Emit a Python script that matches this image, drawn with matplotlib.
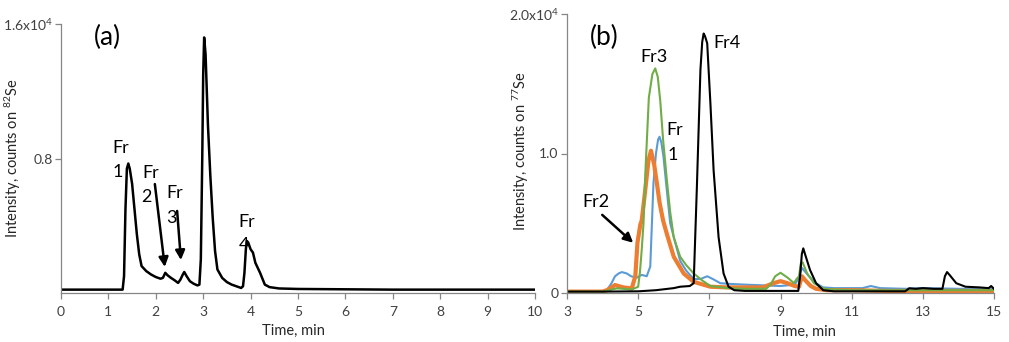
import numpy as np
import matplotlib
matplotlib.use("Agg")
import matplotlib.pyplot as plt

plt.rcParams["font.family"] = ["Lato", "DejaVu Sans"]
plt.rcParams["mathtext.default"] = "regular"

# ── panel (a): 82Se trace, intensity in units of 1e4 counts ─────────────────
T_A = [0, 0.5, 1.0, 1.30, 1.33, 1.36, 1.39, 1.42, 1.45, 1.50, 1.55, 1.60, 1.65, 1.70,
       1.80, 1.90, 2.00, 2.10, 2.15, 2.20, 2.25, 2.32, 2.40, 2.47, 2.52, 2.57, 2.60,
       2.65, 2.72, 2.80, 2.88, 2.92, 2.95, 2.98, 3.00, 3.02, 3.05, 3.10, 3.15, 3.20,
       3.25, 3.30, 3.40, 3.50, 3.60, 3.70, 3.80, 3.84, 3.87, 3.90, 3.92, 3.95, 4.00,
       4.05, 4.10, 4.20, 4.30, 4.40, 4.60, 5.0, 6, 7, 8, 9, 10]
Y_A = [0.02, 0.02, 0.02, 0.02, 0.10, 0.50, 0.74, 0.77, 0.74, 0.65, 0.50, 0.35, 0.23, 0.16,
       0.13, 0.11, 0.095, 0.085, 0.09, 0.12, 0.105, 0.09, 0.075, 0.06, 0.08, 0.11, 0.125,
       0.10, 0.07, 0.055, 0.045, 0.05, 0.20, 0.80, 1.30, 1.52, 1.42, 1.00, 0.70, 0.45,
       0.25, 0.14, 0.09, 0.065, 0.05, 0.04, 0.03, 0.04, 0.12, 0.26, 0.31, 0.30, 0.26,
       0.24, 0.18, 0.12, 0.05, 0.035, 0.027, 0.024, 0.022, 0.02, 0.02, 0.02, 0.02]

# ── panel (b): 77Se traces ───────────────────────────────────────────────────
T_BLUE = [3, 4.0, 4.12, 4.25, 4.35, 4.45, 4.54, 4.68, 4.80, 4.96, 5.10, 5.24, 5.34, 5.43,
          5.50, 5.56, 5.60, 5.65, 5.71, 5.80, 5.90, 6.00, 6.18, 6.35, 6.56, 6.75, 6.94,
          7.10, 7.31, 7.60, 8.0, 8.5, 9.0, 9.4, 9.5, 9.6, 9.8, 10.0, 10.2, 10.5, 11.3,
          11.54, 11.8, 12.5, 13.0, 14.0, 15.0]
Y_BLUE = [0.01, 0.01, 0.02, 0.07, 0.12, 0.14, 0.15, 0.14, 0.12, 0.11, 0.13, 0.12, 0.19, 0.79,
          1.00, 1.10, 1.12, 1.08, 0.98, 0.75, 0.50, 0.40, 0.23, 0.16, 0.10, 0.10, 0.12,
          0.10, 0.07, 0.065, 0.06, 0.055, 0.05, 0.06, 0.10, 0.18, 0.12, 0.07, 0.04, 0.035, 0.035,
          0.05, 0.035, 0.03, 0.035, 0.03, 0.03]

T_ORANGE = [3, 4.0, 4.12, 4.25, 4.35, 4.59, 4.82, 4.92, 4.98, 5.06, 5.10, 5.20, 5.29, 5.36,
            5.45, 5.53, 5.60, 5.70, 5.81, 6.00, 6.28, 6.56, 7.03, 7.5, 8.0, 8.5, 8.8, 9.0,
            9.2, 9.4, 9.52, 9.6, 9.7, 9.85, 10.0, 10.3, 11, 12, 13, 14, 15]
Y_ORANGE = [0.01, 0.01, 0.02, 0.04, 0.057, 0.04, 0.033, 0.12, 0.36, 0.49, 0.52, 0.74, 0.95, 1.02,
            0.92, 0.78, 0.65, 0.52, 0.42, 0.26, 0.14, 0.08, 0.045, 0.04, 0.04, 0.04, 0.07, 0.085,
            0.07, 0.05, 0.045, 0.12, 0.09, 0.05, 0.03, 0.02, 0.02, 0.015, 0.015, 0.015, 0.015]

T_GREEN = [3, 4.0, 4.12, 4.25, 4.40, 4.60, 4.82, 5.00, 5.05, 5.10, 5.15, 5.20, 5.30, 5.40,
           5.48, 5.55, 5.62, 5.70, 5.81, 5.90, 6.00, 6.18, 6.35, 6.56, 6.80, 7.03, 7.5, 8.0,
           8.6, 8.72, 8.85, 9.0, 9.2, 9.38, 9.45, 9.52, 9.57, 9.62, 9.75, 9.94, 10.22, 10.5,
           11, 12, 13, 14, 15]
Y_GREEN = [0.01, 0.01, 0.015, 0.025, 0.033, 0.03, 0.025, 0.045, 0.15, 0.31, 0.50, 0.85, 1.40, 1.57,
           1.61, 1.55, 1.38, 1.10, 0.80, 0.58, 0.40, 0.26, 0.20, 0.14, 0.09, 0.05, 0.035, 0.03,
           0.03, 0.06, 0.12, 0.145, 0.11, 0.07, 0.10, 0.12, 0.21, 0.22, 0.14, 0.07, 0.03, 0.025,
           0.02, 0.02, 0.02, 0.02, 0.02]

T_BLACK = [3, 4, 5, 5.5, 6.0, 6.18, 6.45, 6.56, 6.65, 6.75, 6.80, 6.84, 6.88, 6.94, 7.03,
           7.12, 7.26, 7.40, 7.54, 7.70, 8.0, 8.5, 9.0, 9.5, 9.55, 9.60, 9.64, 9.70, 9.83,
           10.0, 10.2, 10.5, 11, 12, 12.5, 12.62, 12.8, 13.0, 13.3, 13.55, 13.62, 13.68, 13.75,
           13.94, 14.2, 14.6, 14.85, 14.92, 15.0]
Y_BLACK = [0.01, 0.01, 0.012, 0.02, 0.035, 0.045, 0.05, 0.07, 0.76, 1.60, 1.80, 1.86, 1.84, 1.79, 1.36,
           0.88, 0.40, 0.14, 0.045, 0.02, 0.015, 0.015, 0.015, 0.015, 0.12, 0.28, 0.32, 0.27, 0.165,
           0.07, 0.02, 0.012, 0.012, 0.012, 0.012, 0.034, 0.03, 0.035, 0.03, 0.03, 0.12, 0.15, 0.13,
           0.07, 0.045, 0.04, 0.035, 0.05, 0.03]

BLUE, ORANGE, GREEN = "#5B9BD5", "#ED7D31", "#70AD47"
SPINE = "#868686"
W, H = 1009, 342


def style(ax):
    for s in ["top", "right"]:
        ax.spines[s].set_visible(False)
    for s in ["left", "bottom"]:
        ax.spines[s].set_color(SPINE)
        ax.spines[s].set_linewidth(0.9)
    ax.tick_params(direction="out", length=4, width=0.9, color=SPINE,
                   labelsize=10, labelcolor="#404040")
    ax.tick_params(axis="x", pad=5)
    ax.tick_params(axis="y", pad=2)


def box(l, r, b, t):
    return [l / W, (H - b) / H, (r - l) / W, (b - t) / H]


fig = plt.figure(figsize=(W / 100, H / 100), dpi=100)
lab = dict(fontsize=13, ha="center", va="center")
arr = dict(arrowstyle="-|>", color="k", lw=1.8, mutation_scale=14, shrinkA=0, shrinkB=0)

# ── (a) ──
ax1 = fig.add_axes(box(61, 535, 293, 24))
ax1.plot(T_A, Y_A, color="k", lw=1.8)
ax1.set_xlim(0, 10); ax1.set_ylim(0, 1.6)
ax1.set_xticks(range(0, 11))
ax1.set_yticks([0.8, 1.6])
ax1.set_yticklabels(["0.8", "1.6x10$^{4}$"])
style(ax1)
ax1.set_xlabel("Time, min", fontsize=10.5, color="#262626")
ax1.xaxis.set_label_coords(0.49, -0.115)
ax1.set_ylabel("Intensity, counts on $^{82}$Se", fontsize=10.5, color="#262626")
ax1.yaxis.set_label_coords(-0.08, 0.5)
ax1.text(0.97, 1.52, "(a)", fontsize=19, ha="center", va="center")
ax1.text(1.27, 0.86, "Fr", **lab); ax1.text(1.20, 0.72, "1", **lab)
ax1.text(1.90, 0.714, "Fr", **lab); ax1.text(1.81, 0.571, "2", **lab)
ax1.text(2.40, 0.595, "Fr", **lab); ax1.text(2.34, 0.446, "3", **lab)
ax1.text(3.92, 0.42, "Fr", **lab); ax1.text(3.86, 0.285, "4", **lab)
ax1.annotate("", xy=(2.19, 0.155), xytext=(1.98, 0.648), arrowprops=arr)
ax1.annotate("", xy=(2.53, 0.196), xytext=(2.45, 0.488), arrowprops=arr)

# ── (b) ──
ax2 = fig.add_axes(box(567, 994, 293, 14))
ax2.plot(T_BLUE, Y_BLUE, color=BLUE, lw=1.5)
ax2.plot(T_ORANGE, Y_ORANGE, color=ORANGE, lw=3.0)
ax2.plot(T_GREEN, Y_GREEN, color=GREEN, lw=1.5)
ax2.plot(T_BLACK, Y_BLACK, color="k", lw=1.5)
ax2.set_xlim(3, 15); ax2.set_ylim(0, 2.0)
ax2.set_xticks(range(3, 16, 2))
ax2.set_yticks([0, 1.0, 2.0])
ax2.set_yticklabels(["0", "1.0", "2.0x10$^{4}$"])
style(ax2)
ax2.set_xlabel("Time, min", fontsize=10.5, color="#262626")
ax2.xaxis.set_label_coords(0.557, -0.115)
ax2.set_ylabel("Intensity, counts on $^{77}$Se", fontsize=10.5, color="#262626")
ax2.yaxis.set_label_coords(-0.084, 0.51)
ax2.text(4.04, 1.83, "(b)", fontsize=19, ha="center", va="center")
ax2.text(5.45, 1.69, "Fr3", **lab)
ax2.text(7.51, 1.79, "Fr4", **lab)
ax2.text(6.04, 1.17, "Fr", **lab); ax2.text(5.96, 0.99, "1", **lab)
ax2.text(3.82, 0.65, "Fr2", **lab)
ax2.annotate("", xy=(4.86, 0.36), xytext=(3.99, 0.56), arrowprops=arr)

fig.savefig("out.png", dpi=100)
